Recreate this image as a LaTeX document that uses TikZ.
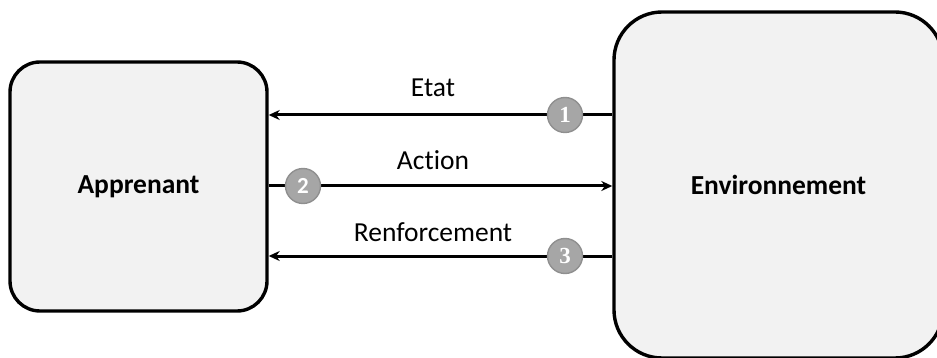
\documentclass[tikz,border=0pt]{standalone}
\usepackage{fontspec}
\setmainfont[Ligatures={NoCommon,NoRare}]{Carlito}
\newfontfamily\numserif{Liberation Serif}
\usetikzlibrary{arrows.meta}
\definecolor{boxfill}{HTML}{F2F2F2}
\definecolor{badgefill}{HTML}{A6A6A6}
\definecolor{badgeline}{HTML}{8F8F8F}
\begin{document}
\begin{tikzpicture}[x=1pt,y=-1pt,
  agent/.style={draw=black, line width=3.4pt, fill=boxfill, rounded corners=#1, rectangle, inner sep=0pt,
    font=\fontsize{27.5}{30}\selectfont\bfseries},
  flow/.style={line width=3pt, -{Stealth[length=11pt,width=10pt]}},
  badge/.style={circle, fill=badgefill, draw=badgeline, line width=1.4pt, minimum size=35pt, inner sep=0pt,
    text=white, font=\fontsize{23}{23}\selectfont\bfseries},
  lbl/.style={font=\fontsize{27.5}{30}\selectfont}
]
\useasboundingbox (0,0) rectangle (937,358);
\clip (0,0) rectangle (937,358);
\node[agent=30pt, minimum width=257pt, minimum height=249pt] (app) at (138.5,186.5) {Apprenant};
\node[agent=48pt, minimum width=329pt, minimum height=346pt] (env) at (778.5,185) {Environnement};
\coordinate (y1) at (0,115);
\coordinate (y2) at (0,186);
\coordinate (y3) at (0,256);
\draw[flow] (env.west |- y1) -- (app.east |- y1);
\draw[flow] (app.east |- y2) -- (env.west |- y2);
\draw[flow] (env.west |- y3) -- (app.east |- y3);
\node[badge] (b1) at (565,115) {\numserif 1};
\node[badge] (b2) at (303,186) {2};
\node[badge] (b3) at (565,256) {\numserif 3};
\node[lbl] (l1) at (433,88) {Etat};
\node[lbl] (l2) at (433,160) {Action};
\node[lbl] (l3) at (433,232) {Renforcement};
\end{tikzpicture}
\end{document}
